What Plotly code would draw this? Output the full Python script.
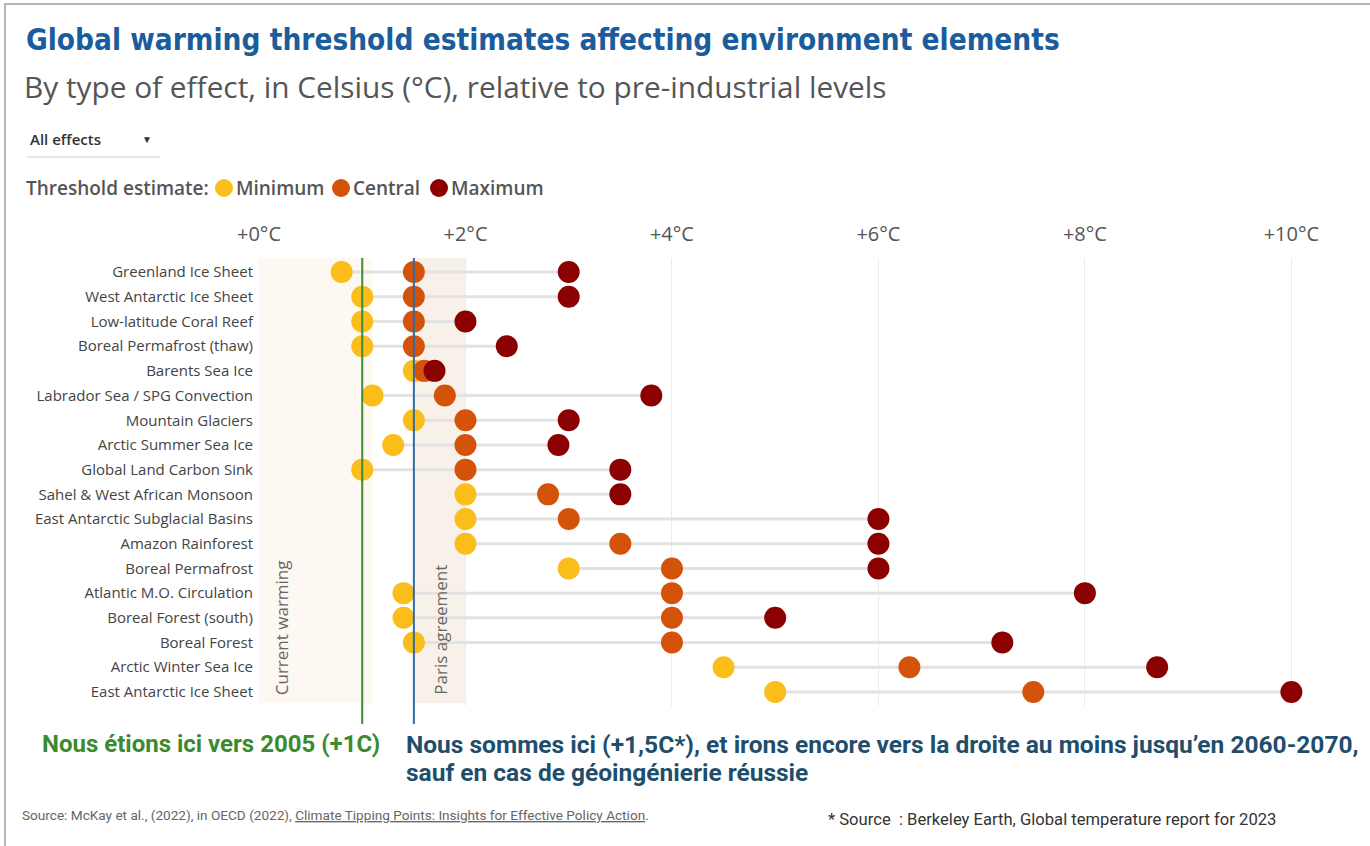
import plotly.graph_objects as go

# ---------------- data ----------------
elements = [
    "Greenland Ice Sheet", "West Antarctic Ice Sheet", "Low-latitude Coral Reef",
    "Boreal Permafrost (thaw)", "Barents Sea Ice", "Labrador Sea / SPG Convection",
    "Mountain Glaciers", "Arctic Summer Sea Ice", "Global Land Carbon Sink",
    "Sahel & West African Monsoon", "East Antarctic Subglacial Basins", "Amazon Rainforest",
    "Boreal Permafrost", "Atlantic M.O. Circulation", "Boreal Forest (south)",
    "Boreal Forest", "Arctic Winter Sea Ice", "East Antarctic Ice Sheet",
]
minimum = [0.8, 1.0, 1.0, 1.0, 1.5, 1.1, 1.5, 1.3, 1.0, 2.0, 2.0, 2.0, 3.0, 1.4, 1.4, 1.5, 4.5, 5.0]
central = [1.5, 1.5, 1.5, 1.5, 1.6, 1.8, 2.0, 2.0, 2.0, 2.8, 3.0, 3.5, 4.0, 4.0, 4.0, 4.0, 6.3, 7.5]
maximum = [3.0, 3.0, 2.0, 2.4, 1.7, 3.8, 3.0, 2.9, 3.5, 3.5, 6.0, 6.0, 6.0, 8.0, 5.0, 7.2, 8.7, 10.0]

tick_vals = [0, 2, 4, 6, 8, 10]
tick_text = ["+0°C", "+2°C", "+4°C", "+6°C", "+8°C", "+10°C"]

series_names = ["Minimum", "Central", "Maximum"]
series_colors = ["#fbbd19", "#d4530b", "#8b0000"]

current_warming = 1.0
paris = 1.5
band_current = (0.0, 1.1)
band_paris = (1.5, 2.0)

# ---------------- layout geometry ----------------
W, H = 1370, 846
L, R, T, B = 259, 27, 258, 140
PW, PH = W - L - R, H - T - B


def px(x):
    return (x - L) / PW


def py(y):
    return (H - B - y) / PH


fig = go.Figure()

# connector lines
lx, ly = [], []
for name, lo, hi in zip(elements, minimum, maximum):
    lx += [lo, hi, None]
    ly += [name, name, None]
fig.add_trace(go.Scatter(x=lx, y=ly, mode="lines", line=dict(color="#e2e2e2", width=3),
                         hoverinfo="skip", showlegend=False))

for name, vals, col in zip(series_names, [minimum, central, maximum], series_colors):
    fig.add_trace(go.Scatter(x=vals, y=elements, mode="markers", name=name,
                             marker=dict(color=col, size=22, line=dict(width=0)),
                             showlegend=False))

shapes = []
# background bands
shapes.append(dict(type="rect", xref="x", yref="paper", x0=band_current[0], x1=band_current[1],
                   y0=py(703), y1=1, fillcolor="#fdf8f1", line=dict(width=0), layer="below"))
shapes.append(dict(type="rect", xref="x", yref="paper", x0=band_paris[0], x1=band_paris[1],
                   y0=py(703), y1=1, fillcolor="#f7f1ea", line=dict(width=0), layer="below"))
# vertical reference lines
shapes.append(dict(type="line", xref="x", yref="paper", x0=current_warming, x1=current_warming,
                   y0=py(724), y1=1, line=dict(color="#3f8a34", width=2), layer="above"))
shapes.append(dict(type="line", xref="x", yref="paper", x0=paris, x1=paris,
                   y0=py(724), y1=1, line=dict(color="#2f6ca3", width=2), layer="above"))
# dropdown underline
shapes.append(dict(type="line", xref="paper", yref="paper", x0=px(27), x1=px(160),
                   y0=py(157), y1=py(157), line=dict(color="#dddddd", width=1.5)))
# frame
shapes.append(dict(type="rect", xref="paper", yref="paper", x0=px(5), x1=px(1380),
                   y0=py(850), y1=py(4), line=dict(color="#a0a0a0", width=1.5),
                   fillcolor="rgba(0,0,0,0)"))
# legend circles
for cx, col in zip([224, 341, 439], series_colors):
    shapes.append(dict(type="circle", xref="paper", yref="paper", xsizemode="pixel",
                       ysizemode="pixel", xanchor=px(cx), yanchor=py(188),
                       x0=-9, x1=9, y0=-9, y1=9, fillcolor=col, line=dict(width=0)))

ann = []


def text(x, y, s, size, color, family="Open Sans", xanchor="left", yanchor="middle", weight=None, **kw):
    f = dict(size=size, color=color, family=family)
    if weight:
        f["weight"] = weight
    ann.append(dict(xref="paper", yref="paper", x=px(x), y=py(y), text=s, showarrow=False,
                    xanchor=xanchor, yanchor=yanchor, font=f, **kw))


text(24, 40, "<b>Global warming threshold estimates affecting environment elements</b>", 29.5,
     "#1b5d9c", family="DejaVu Sans Condensed")
text(22, 86, "By type of effect, in Celsius (°C), relative to pre-industrial levels", 29.8, "#555555")
text(28, 139, "All effects", 15, "#333333", weight=600)
text(147, 139, "▼", 10, "#333333", xanchor="center")
text(24, 188, "Threshold estimate:", 19, "#555555", weight=600)
for lx_, nm in zip([234, 351, 449], series_names):
    text(lx_, 188, nm, 19, "#555555", weight=600)

ann.append(dict(xref="x", yref="paper", x=0.22, y=py(697), text="Current warming", textangle=-90,
                showarrow=False, xanchor="center", yanchor="bottom",
                font=dict(size=17, color="#666666", family="Open Sans")))
ann.append(dict(xref="x", yref="paper", x=1.75, y=py(697), text="Paris agreement", textangle=-90,
                showarrow=False, xanchor="center", yanchor="bottom",
                font=dict(size=17, color="#666666", family="Open Sans")))

text(40, 744, "<b>Nous étions ici vers 2005 (+1C)</b>", 24, "#3b8a2e", family="Roboto")
text(404, 744, "<b>Nous sommes ici (+1,5C*), et irons encore vers la droite au moins jusqu’en 2060-2070,</b>",
     24.5, "#1f4e6c", family="Roboto")
text(404, 772, "<b>sauf en cas de géoingénierie réussie</b>", 24.5, "#1f4e6c", family="Roboto")
text(20, 815, "Source: McKay et al., (2022), in OECD (2022), <u>Climate Tipping Points: Insights for Effective Policy Action</u>.",
     13.6, "#666666", family="Roboto")
text(826, 819, "* Source  : Berkeley Earth, Global temperature report for 2023", 16.6, "#333333",
     family="Roboto")

fig.update_layout(
    width=W, height=H, margin=dict(l=L, r=R, t=T, b=B),
    paper_bgcolor="white", plot_bgcolor="white",
    shapes=shapes, annotations=ann, showlegend=False,
    font=dict(family="Open Sans", color="#444444"),
    xaxis=dict(range=[0, 10.5], side="top", tickvals=tick_vals, ticktext=tick_text,
               showgrid=True, gridcolor="#ececec", gridwidth=1, zeroline=False,
               showline=False, ticks="", ticklabelstandoff=12,
               tickfont=dict(size=20, color="#555555", family="Open Sans")),
    yaxis=dict(categoryorder="array", categoryarray=elements, autorange=False,
               range=[len(elements) - 0.43, -0.57], showgrid=False, zeroline=False,
               showline=False, ticks="", ticklabelstandoff=5,
               tickfont=dict(size=15, color="#444444", family="Open Sans")),
)

fig.write_html("out.html", config={"displayModeBar": False},
               post_script="document.body.style.margin='0';")
